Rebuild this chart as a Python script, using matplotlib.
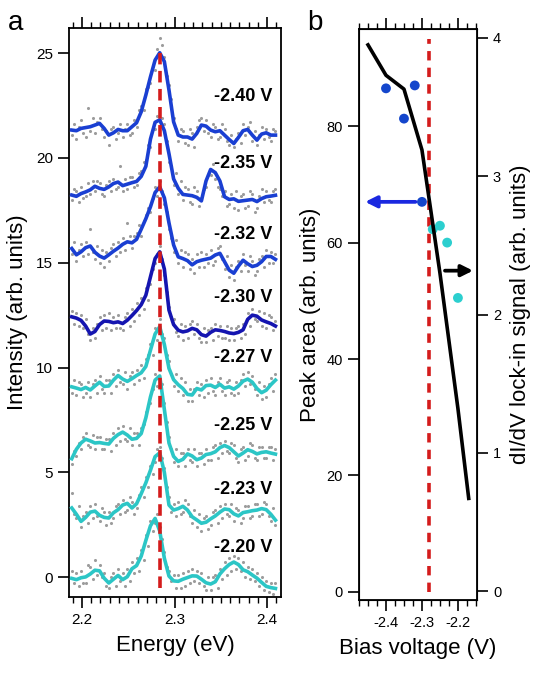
import matplotlib
matplotlib.use('Agg')
from matplotlib import pyplot as plt
from matplotlib.ticker import MultipleLocator, FormatStrFormatter

plt.rcParams['font.family'] = ['Liberation Sans', 'DejaVu Sans']
plt.rcParams['axes.unicode_minus'] = False

# ---- panel a: spectra (fit curves + raw points) ----
energy_fit = [2.189, 2.194, 2.199, 2.204, 2.209, 2.214, 2.219, 2.224, 2.229, 2.234,
              2.239, 2.244, 2.249, 2.254, 2.259, 2.264, 2.269, 2.274, 2.279, 2.284,
              2.289, 2.294, 2.299, 2.304, 2.309, 2.314, 2.319, 2.324, 2.329, 2.334,
              2.339, 2.344, 2.349, 2.354, 2.359, 2.364, 2.369, 2.374, 2.379, 2.384,
              2.389, 2.394, 2.399, 2.404, 2.409]

energy_raw = [2.189, 2.1915, 2.194, 2.1965, 2.199, 2.2015, 2.204, 2.2065, 2.209, 2.2115,
              2.214, 2.2165, 2.219, 2.2215, 2.224, 2.2265, 2.229, 2.2315, 2.234, 2.2365,
              2.239, 2.2415, 2.244, 2.2465, 2.249, 2.2515, 2.254, 2.2565, 2.259, 2.2615,
              2.264, 2.2665, 2.269, 2.2715, 2.274, 2.2765, 2.279, 2.2815, 2.284, 2.2865,
              2.289, 2.2915, 2.294, 2.2965, 2.299, 2.3015, 2.304, 2.3065, 2.309, 2.3115,
              2.314, 2.3165, 2.319, 2.3215, 2.324, 2.3265, 2.329, 2.3315, 2.334, 2.3365,
              2.339, 2.3415, 2.344, 2.3465, 2.349, 2.3515, 2.354, 2.3565, 2.359, 2.3615,
              2.364, 2.3665, 2.369, 2.3715, 2.374, 2.3765, 2.379, 2.3815, 2.384, 2.3865,
              2.389, 2.3915, 2.394, 2.3965, 2.399, 2.4015, 2.404, 2.4065, 2.409]

fit_240 = [21.33, 21.30, 21.41, 21.45, 21.49, 21.57, 21.65, 21.41, 21.09, 21.20,
           21.36, 21.30, 21.30, 21.49, 21.68, 22.20, 23.00, 23.87, 24.67, 25.02,
           24.60, 23.24, 21.72, 21.09, 21.00, 21.00, 20.90, 21.17, 21.57, 21.52,
           21.33, 21.25, 21.30, 21.09, 20.88, 20.69, 20.98, 21.30, 21.36, 21.09,
           20.85, 21.14, 21.20, 21.09, 21.09]
fit_235 = [18.23, 18.17, 18.30, 18.38, 18.48, 18.65, 18.55, 18.50, 18.62, 18.78,
           18.85, 18.68, 18.75, 18.82, 18.88, 19.12, 19.60, 20.90, 21.70, 21.82,
           21.30, 20.20, 19.00, 18.55, 18.26, 18.23, 18.20, 18.12, 17.95, 18.90,
           19.45, 19.30, 18.90, 18.15, 18.02, 18.05, 17.93, 17.96, 17.99, 18.02,
           17.92, 18.06, 18.15, 18.18, 18.22]
fit_232 = [15.68, 15.38, 15.52, 15.72, 15.80, 15.50, 15.32, 15.22, 15.38, 15.55,
           15.70, 15.88, 16.00, 15.95, 16.12, 16.60, 17.10, 17.67, 18.35, 18.62,
           18.10, 16.90, 15.85, 15.28, 15.20, 15.10, 14.90, 15.05, 15.12, 15.17,
           15.22, 15.37, 15.45, 15.05, 14.65, 14.50, 14.84, 15.12, 14.95, 14.82,
           14.88, 15.05, 15.30, 15.30, 15.16]
fit_230 = [12.42, 12.36, 12.25, 11.98, 11.60, 11.72, 12.05, 12.22, 12.20, 12.14,
           12.18, 12.10, 12.26, 12.48, 12.72, 13.00, 13.45, 14.33, 15.20, 15.52,
           14.70, 12.74, 12.05, 11.78, 11.70, 11.75, 11.87, 11.80, 11.57, 11.50,
           11.68, 11.80, 11.77, 11.72, 11.65, 11.62, 11.68, 11.80, 12.30, 12.50,
           12.45, 12.27, 12.18, 12.10, 11.98]
fit_227 = [9.08, 9.02, 8.95, 9.05, 8.93, 9.12, 9.30, 9.10, 9.12, 9.40,
           9.62, 9.45, 9.34, 9.47, 9.62, 9.75, 10.05, 10.83, 11.60, 11.95,
           11.10, 9.96, 9.42, 9.18, 9.00, 8.72, 8.69, 9.00, 8.93, 9.14,
           9.16, 9.05, 9.20, 9.02, 9.08, 8.97, 9.12, 9.35, 9.45, 9.30,
           9.00, 8.80, 8.92, 9.18, 9.40]
fit_225 = [5.65, 6.10, 6.40, 6.58, 6.50, 6.40, 6.42, 6.38, 6.35, 6.62,
           6.80, 6.92, 6.78, 6.58, 6.62, 6.85, 7.60, 8.60, 9.40, 9.60,
           8.00, 6.40, 5.76, 5.52, 5.62, 5.88, 5.78, 5.60, 5.68, 5.85,
           5.89, 5.98, 6.18, 6.28, 6.18, 5.98, 5.78, 5.92, 6.08, 6.00,
           5.88, 5.95, 5.98, 5.92, 5.87]
fit_223 = [3.30, 3.00, 2.66, 2.85, 3.10, 3.15, 2.95, 2.85, 2.82, 3.07,
           3.22, 3.44, 3.52, 3.30, 3.50, 3.98, 4.50, 5.10, 5.75, 5.93,
           5.00, 3.44, 3.20, 3.27, 3.38, 3.20, 2.88, 2.73, 2.57, 2.62,
           2.78, 2.92, 3.10, 3.25, 3.22, 3.02, 2.92, 3.08, 3.12, 3.17,
           3.20, 3.27, 3.22, 3.00, 2.72]
fit_220 = [-0.06, -0.12, -0.03, 0.01, 0.15, 0.33, 0.30, -0.05, -0.28, -0.10,
           0.08, -0.12, 0.02, 0.40, 0.55, 1.00, 1.75, 2.45, 2.80, 2.20,
           0.90, 0.05, -0.18, -0.20, -0.10, -0.02, 0.06, 0.05, -0.10, -0.27,
           -0.33, -0.22, 0.15, 0.40, 0.60, 0.72, 0.60, 0.35, 0.26, 0.10,
           -0.05, -0.25, -0.44, -0.50, -0.54]

raw_240 = [21.1, 21.6, 20.9, 21.5, 21.8, 21.2, 21.0, 22.4, 21.3, 21.9, 21.2, 21.7,
           21.9, 21.4, 21.0, 21.3, 20.6, 21.4, 21.5, 20.9, 21.2, 21.6, 21.0, 21.4,
           21.6, 21.1, 21.2, 21.8, 21.5, 22.3, 22.5, 22.3, 23.3, 23.4, 23.6, 24.4,
           24.2, 25.2, 25.7, 25.4, 24.8, 23.9, 23.5, 22.8, 21.9, 21.4, 20.8, 21.4,
           21.3, 20.7, 20.6, 21.4, 21.2, 20.5, 21.5, 21.8, 21.9, 21.3, 21.8, 21.2,
           21.0, 21.6, 21.5, 20.9, 21.0, 21.6, 21.4, 20.8, 20.6, 21.1, 20.5, 20.9,
           21.2, 20.7, 21.6, 21.1, 21.5, 21.7, 20.8, 21.3, 20.6, 21.1, 21.5, 20.9,
           21.4, 21.0, 20.8, 21.4, 21.3]
raw_235 = [18.0, 18.5, 18.4, 17.9, 18.6, 18.1, 18.2, 18.8, 18.3, 18.9, 18.4, 18.9,
           18.8, 18.3, 18.2, 18.7, 18.9, 18.4, 19.0, 18.5, 18.6, 19.6, 18.4, 19.0,
           18.5, 19.1, 19.1, 18.6, 18.7, 19.3, 19.4, 19.8, 19.9, 20.6, 20.5, 21.4,
           21.4, 22.0, 21.5, 21.9, 21.6, 20.8, 19.8, 19.6, 18.7, 19.3, 18.3, 18.9,
           18.0, 18.6, 18.5, 17.9, 17.8, 18.6, 18.4, 17.7, 18.1, 18.5, 18.6, 19.2,
           19.2, 19.7, 19.0, 18.6, 18.5, 18.2, 18.4, 17.7, 17.8, 18.3, 17.6, 18.4,
           17.5, 18.2, 18.3, 17.6, 17.7, 18.4, 18.3, 17.4, 17.6, 18.2, 18.5, 17.9,
           18.4, 18.0, 17.9, 18.4, 18.5]
raw_232 = [15.4, 16.0, 15.1, 15.6, 15.9, 15.3, 16.0, 15.4, 16.6, 15.5, 15.2, 15.8,
           15.0, 15.6, 14.8, 15.5, 15.1, 15.7, 15.9, 15.3, 16.0, 15.5, 16.2, 15.6,
           16.9, 16.3, 15.7, 16.3, 16.4, 16.8, 16.3, 17.0, 17.3, 17.6, 17.4, 18.1,
           18.6, 18.2, 18.9, 18.4, 17.8, 17.4, 16.6, 16.2, 15.5, 16.1, 15.0, 15.6,
           14.8, 15.5, 15.4, 14.7, 15.2, 14.5, 15.4, 14.8, 15.5, 14.8, 15.4, 15.0,
           15.6, 14.9, 15.1, 15.7, 15.8, 15.2, 14.7, 15.3, 14.3, 14.9, 14.2, 14.8,
           15.1, 14.6, 15.4, 14.9, 14.6, 15.3, 15.1, 14.4, 14.6, 15.2, 15.3, 14.8,
           15.6, 15.0, 15.5, 15.0, 15.4]
raw_230 = [12.7, 12.1, 12.6, 12.0, 12.5, 11.9, 12.3, 11.6, 11.3, 11.9, 11.4, 12.1,
           12.4, 11.8, 12.5, 11.9, 12.6, 11.8, 12.4, 11.9, 12.5, 11.9, 11.8, 12.4,
           12.6, 12.0, 12.8, 12.2, 13.1, 12.5, 13.3, 12.8, 13.8, 13.2, 14.0, 14.7,
           15.0, 15.4, 15.8, 15.2, 14.4, 13.6, 12.9, 12.4, 12.3, 11.7, 11.5, 12.1,
           11.3, 12.0, 11.4, 12.1, 12.2, 11.6, 12.1, 11.4, 11.2, 11.9, 11.2, 11.8,
           11.9, 11.3, 12.1, 11.5, 12.0, 11.4, 11.4, 12.0, 11.3, 11.9, 11.3, 11.9,
           12.0, 11.4, 12.1, 11.6, 12.6, 12.0, 12.8, 12.3, 12.2, 12.7, 12.0, 12.6,
           11.9, 12.5, 12.4, 11.8, 12.2]
raw_227 = [8.8, 9.4, 8.7, 9.3, 9.2, 8.6, 8.8, 9.3, 8.6, 9.2, 9.4, 8.8,
           9.6, 9.0, 8.8, 9.4, 9.4, 8.8, 9.7, 9.1, 9.9, 9.3, 9.2, 9.8,
           9.0, 9.6, 9.8, 9.2, 9.9, 9.4, 10.1, 9.5, 10.4, 10.6, 11.1, 10.6,
           11.9, 11.3, 12.3, 11.6, 11.4, 10.6, 10.3, 9.7, 9.1, 9.7, 8.9, 9.5,
           8.7, 9.3, 8.4, 9.0, 8.4, 9.0, 9.3, 8.7, 9.2, 8.6, 9.4, 8.8,
           9.5, 8.9, 8.7, 9.3, 9.5, 8.9, 8.7, 9.3, 9.4, 8.8, 8.7, 9.3,
           8.8, 9.4, 9.7, 9.1, 9.8, 9.2, 9.6, 9.0, 8.7, 9.3, 8.5, 9.1,
           8.6, 9.2, 9.5, 8.9, 9.7]
raw_225 = [5.4, 6.0, 5.8, 6.4, 6.1, 6.7, 6.9, 6.3, 6.2, 6.8, 6.1, 6.7,
           6.7, 6.1, 6.1, 6.6, 6.6, 6.0, 6.9, 6.3, 7.1, 6.5, 7.2, 6.6,
           6.5, 7.1, 6.3, 6.9, 6.9, 6.3, 7.1, 7.3, 7.9, 8.2, 8.3, 9.0,
           9.7, 9.1, 9.9, 9.2, 8.3, 7.4, 6.7, 6.1, 5.5, 6.1, 5.3, 5.9,
           5.9, 5.3, 6.1, 5.6, 5.5, 6.1, 5.3, 5.9, 5.9, 5.4, 6.1, 5.6,
           5.6, 6.2, 6.3, 5.7, 6.4, 5.9, 6.5, 6.0, 5.9, 6.4, 6.3, 5.7,
           5.5, 6.1, 6.2, 5.6, 5.8, 6.4, 6.3, 5.7, 5.6, 6.2, 6.2, 5.7,
           5.7, 6.2, 6.2, 5.6, 6.1]
raw_223 = [4.0, 3.0, 2.8, 3.4, 2.4, 2.9, 3.1, 2.6, 3.4, 2.8, 3.5, 2.9,
           2.7, 3.3, 3.1, 2.5, 3.1, 2.6, 2.8, 3.4, 3.5, 3.0, 3.7, 3.1,
           3.2, 3.8, 3.6, 3.0, 3.3, 3.9, 4.3, 3.8, 4.8, 4.3, 5.3, 4.9,
           5.5, 6.1, 6.2, 5.7, 5.2, 4.3, 3.8, 3.1, 3.5, 2.9, 3.6, 3.0,
           3.1, 3.7, 3.5, 2.9, 2.6, 3.2, 2.4, 3.0, 2.2, 2.8, 2.9, 2.3,
           2.5, 3.1, 3.2, 2.6, 3.4, 2.8, 3.5, 3.0, 2.9, 3.5, 2.7, 3.3,
           3.2, 2.6, 2.8, 3.4, 3.4, 2.8, 2.9, 3.5, 3.5, 2.9, 3.0, 3.6,
           3.5, 2.9, 2.7, 3.3, 2.5]
raw_220 = [0.3, -0.3, 0.2, -0.4, 0.3, -0.3, -0.3, 0.6, 0.5, -0.1, 0.8, 0.1,
           0.6, 0.0, 0.2, -0.4, -0.5, 0.0, 0.2, -0.4, 0.4, -0.2, 0.2, -0.4,
           0.4, -0.2, 0.7, 0.2, 0.9, 0.3, 1.3, 0.8, 2.0, 1.5, 2.7, 2.2,
           2.6, 3.0, 2.4, 1.8, 1.2, 0.5, 0.3, -0.2, 0.1, -0.5, 0.1, -0.5,
           0.2, -0.4, 0.3, -0.3, 0.4, -0.2, 0.3, -0.3, 0.2, -0.4, -0.6, 0.0,
           -0.6, 0.0, 0.1, -0.5, 0.4, -0.1, 0.7, 0.1, 0.9, 0.3, 1.0, 0.4,
           0.9, 0.3, 0.7, 0.0, 0.5, -0.1, 0.4, -0.2, 0.2, -0.4, 0.0, -0.6,
           -0.2, -0.7, -0.3, -0.8, -0.3]

bias_labels = ['-2.40 V', '-2.35 V', '-2.32 V', '-2.30 V',
               '-2.27 V', '-2.25 V', '-2.23 V', '-2.20 V']
fits = [fit_240, fit_235, fit_232, fit_230, fit_227, fit_225, fit_223, fit_220]
raws = [raw_240, raw_235, raw_232, raw_230, raw_227, raw_225, raw_223, raw_220]
peak_energy = 2.284

# ---- panel b ----
bias_area = [-2.40, -2.35, -2.32, -2.30, -2.27, -2.25, -2.23, -2.20]
peak_area = [86.5, 81.3, 87.0, 67.0, 62.3, 62.9, 60.0, 50.5]
bias_didv = [-2.45, -2.40, -2.35, -2.30, -2.25, -2.20, -2.17]
didv = [3.95, 3.73, 3.63, 3.19, 2.30, 1.32, 0.67]
threshold_bias = -2.28

BLUE = '#1a3fd2'
NAVY = '#1515b0'
CYAN = '#2cc6c6'
RED = '#d41c1c'
curve_colors = [BLUE, BLUE, BLUE, NAVY, CYAN, CYAN, CYAN, CYAN]
dot_colors = ['#1446cc'] * 4 + ['#2ccfcf'] * 4
label_y = [22.95, 19.75, 16.35, 13.35, 10.5, 7.25, 4.2, 1.4]

fig = plt.figure(figsize=(5.36, 6.8), dpi=100)

# panel a
ax = fig.add_axes([0.1287, 0.122, 0.3956, 0.8368])
for raw, fit, col, lab, ly in zip(raws, fits, curve_colors, bias_labels, label_y):
    ax.scatter(energy_raw, raw, s=5, color='#9c9c9c', lw=0, zorder=1)
    ax.plot(energy_fit, fit, color=col, lw=2.6, zorder=3)
    ax.text(2.406, ly, lab, ha='right', va='center', fontsize=13, fontweight='bold', zorder=5)
ax.plot([peak_energy, peak_energy], [-0.5, 25.0], color=RED, lw=2.6,
        dashes=(3.2, 1.8), zorder=4)
ax.set_xlim(2.186, 2.415)
ax.set_ylim(-0.95, 26.2)
ax.xaxis.set_major_locator(MultipleLocator(0.1))
ax.xaxis.set_minor_locator(MultipleLocator(0.01))
ax.xaxis.set_major_formatter(FormatStrFormatter('%.1f'))
ax.yaxis.set_major_locator(MultipleLocator(5))
ax.tick_params(axis='x', which='both', direction='out', top=True, labeltop=False)
ax.tick_params(axis='y', which='both', direction='out')
ax.tick_params(which='major', length=8, width=1.2, labelsize=11)
ax.tick_params(which='minor', length=4.5, width=1.0)
ax.set_xlabel('Energy (eV)', fontsize=16, labelpad=6)
ax.set_ylabel('Intensity (arb. units)', fontsize=16, labelpad=6)
for sp in ax.spines.values():
    sp.set_linewidth(1.3)

# panel b
bx = fig.add_axes([0.6698, 0.1176, 0.2201, 0.8398])
bx.scatter(bias_area, peak_area, s=50, c=dot_colors, lw=0, zorder=3)
bx.plot([threshold_bias, threshold_bias], [0, 95], color=RED, lw=2.6,
        dashes=(2.6, 2.0), zorder=2)
bx.annotate('', xy=(-2.458, peak_area[3]), xytext=(-2.318, peak_area[3]),
            arrowprops=dict(arrowstyle='-|>', color='#1a28e0', lw=2.7,
                            mutation_scale=17, shrinkA=0, shrinkB=0), zorder=4)
bx.set_xlim(-2.475, -2.147)
bx.set_ylim(-1.4, 96.7)
bx.xaxis.set_major_locator(MultipleLocator(0.1))
bx.xaxis.set_minor_locator(MultipleLocator(0.025))
bx.xaxis.set_major_formatter(FormatStrFormatter('%.1f'))
bx.yaxis.set_major_locator(MultipleLocator(20))
bx.tick_params(axis='x', which='both', direction='out', top=True, labeltop=False)
bx.tick_params(axis='y', which='both', direction='out', right=False)
bx.tick_params(which='major', length=8, width=1.2, labelsize=10.5)
bx.tick_params(which='minor', length=4.5, width=1.0)
bx.set_xlabel('Bias voltage (V)', fontsize=16, labelpad=6)
bx.set_ylabel('Peak area (arb. units)', fontsize=16, labelpad=4)
for sp in bx.spines.values():
    sp.set_linewidth(1.3)

rx = bx.twinx()
rx.plot(bias_didv, didv, color='black', lw=2.6, zorder=3)
rx.annotate('', xy=(-2.158, 2.317), xytext=(-2.236, 2.317),
            arrowprops=dict(arrowstyle='-|>', color='black', lw=2.7,
                            mutation_scale=17, shrinkA=0, shrinkB=0))
rx.set_ylim(-0.065, 4.065)
rx.yaxis.set_major_locator(MultipleLocator(1))
rx.tick_params(axis='y', direction='out', length=8, width=1.2, labelsize=10.5)
rx.set_ylabel('dI/dV lock-in signal (arb. units)', fontsize=16, labelpad=6)

fig.text(0.015, 0.956, 'a', fontsize=20)
fig.text(0.573, 0.956, 'b', fontsize=20)

fig.savefig('out.png', dpi=100)
